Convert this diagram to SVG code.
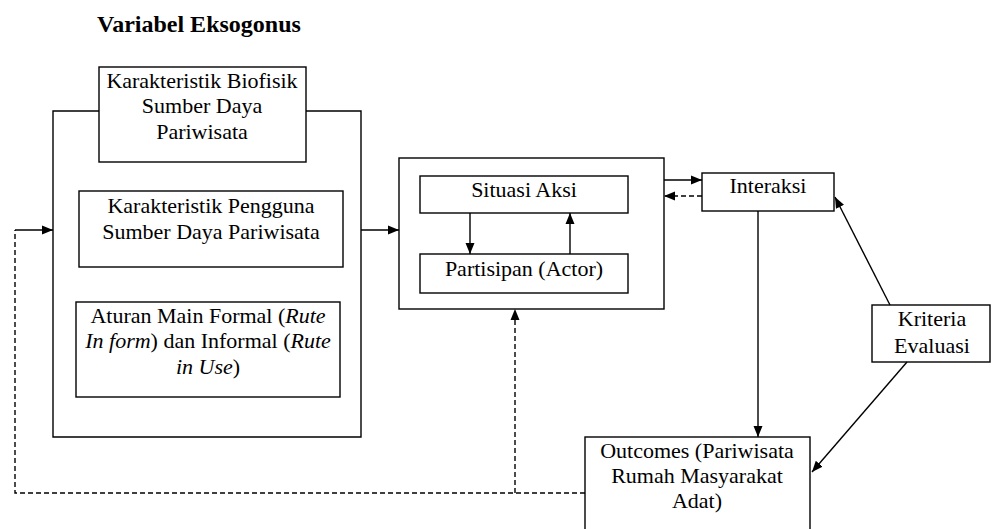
<svg xmlns="http://www.w3.org/2000/svg" width="992" height="529" viewBox="0 0 992 529">
<style>
.box{fill:#fff;stroke:#000;stroke-width:1.4}
.ln{fill:none;stroke:#000;stroke-width:1.4}
.dash{fill:none;stroke:#000;stroke-width:1.4;stroke-dasharray:5 3}
.t{font-size:22px;fill:#000;text-anchor:middle}
.title{font-weight:bold;font-size:24px}
.it{font-style:italic}
</style>
<defs>
<marker id="ah" markerUnits="userSpaceOnUse" markerWidth="12" markerHeight="10" refX="11" refY="5" orient="auto">
<path d="M0,0.5 L11,5 L0,9.5 z" fill="#000"/>
</marker>
</defs>
<rect width="992" height="529" fill="#fff"/>
<g font-family="Liberation Serif, Times New Roman, serif">
<text class="title" x="97" y="32">Variabel Eksogonus</text>

<g id="arena">
<rect class="box" x="399" y="158" width="265" height="151"/>
</g>

<g id="biofisik">
<rect class="box" x="99" y="67" width="207" height="95"/>
<text class="t" x="202" y="88">Karakteristik Biofisik</text>
<text class="t" x="202" y="113">Sumber Daya</text>
<text class="t" x="202" y="139">Pariwisata</text>
</g>

<g id="pengguna">
<rect class="box" x="79" y="191" width="264" height="76"/>
<text class="t" x="211" y="213">Karakteristik Pengguna</text>
<text class="t" x="211" y="239">Sumber Daya Pariwisata</text>
</g>

<g id="aturan">
<rect class="box" x="76" y="302" width="264" height="95"/>
<text class="t" x="208" y="323">Aturan Main Formal (<tspan class="it">Rute</tspan></text>
<text class="t" x="208" y="348"><tspan class="it">In form</tspan>) dan Informal (<tspan class="it">Rute</tspan></text>
<text class="t" x="208" y="374"><tspan class="it">in Use</tspan>)</text>
</g>

<g id="situasi">
<rect class="box" x="420" y="176" width="208" height="37"/>
<text class="t" x="524" y="197">Situasi Aksi</text>
</g>

<g id="partisipan">
<rect class="box" x="420" y="254" width="208" height="39"/>
<text class="t" x="524" y="276">Partisipan (Actor)</text>
</g>

<g id="interaksi">
<rect class="box" x="702" y="173" width="132" height="38"/>
<text class="t" x="768" y="193">Interaksi</text>
</g>

<g id="kriteria">
<rect class="box" x="872" y="305" width="118" height="57"/>
<text class="t" x="932" y="326">Kriteria</text>
<text class="t" x="932" y="353">Evaluasi</text>
</g>

<g id="outcomes">
<rect class="box" x="585" y="437" width="225" height="110"/>
<text class="t" x="697" y="458">Outcomes (Pariwisata</text>
<text class="t" x="697" y="483">Rumah Masyarakat</text>
<text class="t" x="697" y="508">Adat)</text>
</g>
</g>

<g id="connectors">
<path class="ln" d="M99,111 H53 V437 H361 V111 H306"/>
<path class="ln" d="M15,230 H53" marker-end="url(#ah)"/>
<path class="ln" d="M361,230 H399" marker-end="url(#ah)"/>
<path class="ln" d="M470,213 V254" marker-end="url(#ah)"/>
<path class="ln" d="M570,254 V213" marker-end="url(#ah)"/>
<path class="ln" d="M664,180 H702" marker-end="url(#ah)"/>
<path class="dash" d="M702,196 H664" marker-end="url(#ah)"/>
<path class="ln" d="M758,211 V437" marker-end="url(#ah)"/>
<path class="ln" d="M890,305 L835,197" marker-end="url(#ah)"/>
<path class="ln" d="M907,362 L812,472" marker-end="url(#ah)"/>
<path class="dash" d="M585,493 H15 V230"/>
<path class="dash" d="M515,493 V309" marker-end="url(#ah)"/>
</g>
</svg>
